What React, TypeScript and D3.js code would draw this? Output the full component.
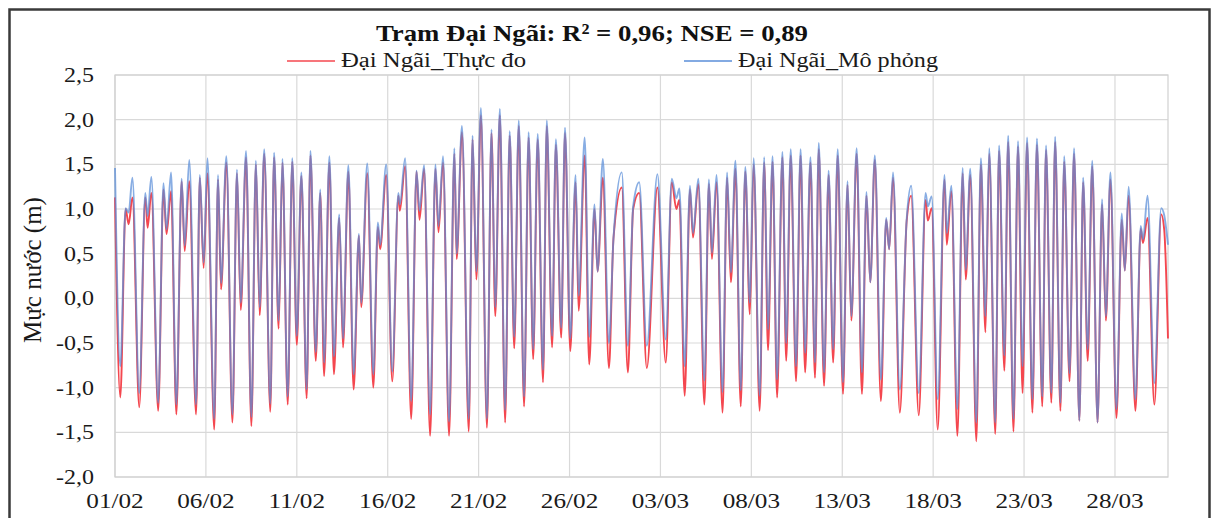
import React from "react";
import * as d3 from "d3";

// Hours since 01/02 00:00 of each turning point (highs, lows, shoulders) of the tide curve
const hours = [
  0, 7, 14, 18, 23, 32, 40, 43, 48, 57, 64, 68, 74, 81, 88, 92, 98, 107, 112, 117, 122, 131,
  136, 140, 147, 155, 161, 166, 173, 180, 186, 191, 197, 205, 210, 216, 221, 228, 234, 240, 246, 253, 258, 265, 271,
  276, 283, 289, 296, 301, 308, 315, 322, 325, 333, 341, 347, 350, 358, 366, 374, 376, 383, 391, 398, 402, 408,
  416, 423, 427, 433, 441, 448, 451, 458, 467, 472, 477, 483, 491, 497, 502, 508, 515, 521, 527, 533, 540, 546,
  552, 558, 565, 570, 577, 582, 589, 594, 601, 608, 612, 620, 626, 633, 637, 644, 652, 658, 669, 677,
  684, 692, 702, 716, 727, 735, 741, 745, 752, 759, 763, 770, 778, 784, 788, 794, 802, 808, 813, 819,
  826, 832, 838, 843, 851, 857, 862, 868, 874, 881, 886, 892, 899, 905, 911, 918, 924, 929, 936, 942, 948, 954,
  961, 967, 972, 979, 986, 992, 997, 1003, 1011, 1018, 1022, 1027, 1036, 1045, 1051, 1061, 1070, 1073, 1078, 1086, 1095,
  1098, 1104, 1112, 1119, 1123, 1129, 1137, 1143, 1149, 1154, 1162, 1167, 1174, 1179, 1186, 1192, 1198, 1204, 1211, 1217, 1224, 1229,
  1236, 1241, 1248, 1253, 1260, 1266, 1273, 1278, 1284, 1290, 1297, 1303, 1308, 1314, 1322, 1329, 1333, 1338, 1347, 1354, 1357, 1363, 1372, 1381, 1385, 1390,
];

// Đại Ngãi_Thực đo (m)
const observed = [
  1.13, -1.11, 1.0, 0.83, 1.13, -1.22, 1.13, 0.79, 1.18, -1.26, 1.22, 0.72, 1.2, -1.3, 1.31, 0.53, 1.31, -1.3, 1.35, 0.34, 1.4, -1.47,
  1.33, 0.1, 1.52, -1.39, 1.4, -0.13, 1.58, -1.43, 1.5, -0.19, 1.62, -1.27, 1.58, -0.34, 1.52, -1.19, 1.53, -0.52, 1.37, -1.12, 1.6, -0.7, 1.18,
  -0.87, 1.52, -0.85, 0.9, -0.55, 1.42, -1.02, 0.7, -0.1, 1.4, -1.0, 0.8, 0.55, 1.38, -0.93, 1.15, 0.98, 1.48, -1.35, 1.42, 0.88, 1.45,
  -1.54, 1.45, 0.74, 1.52, -1.54, 1.62, 0.44, 1.86, -1.49, 1.78, 0.21, 2.05, -1.45, 1.85, -0.2, 2.05, -1.39, 1.82, -0.56, 1.93, -1.21, 1.8,
  -0.68, 1.78, -0.94, 1.93, -0.55, 1.72, -0.44, 1.85, -0.59, 1.3, -0.14, 1.6, -0.74, 1.0, 0.3, 1.35, -0.78, 0.67, 1.24, -0.83,
  1.0, 1.18, -0.78, 1.24, -0.72, 1.3, 1.0, 1.1, -1.09, 1.22, 0.68, 1.28, -1.19, 1.28, 0.44, 1.3, -1.28, 1.35, 0.18, 1.45,
  -1.21, 1.42, -0.18, 1.5, -1.26, 1.52, -0.58, 1.53, -1.11, 1.58, -0.7, 1.6, -0.93, 1.6, -0.83, 1.52, -0.89, 1.67, -0.98, 1.38, -0.72, 1.6,
  -1.07, 1.27, -0.25, 1.62, -1.07, 1.15, 0.18, 1.55, -1.15, 0.88, 0.55, 1.35, -1.28, 0.86, 1.15, -1.31, 1.1, 0.87, 1.01, -1.47, 1.33,
  0.6, 1.2, -1.54, 1.4, 0.21, 1.38, -1.6, 1.5, -0.38, 1.62, -1.52, 1.65, -0.81, 1.75, -1.49, 1.7, -1.06, 1.74, -1.28, 1.72, -1.21, 1.66,
  -1.17, 1.75, -1.26, 1.53, -0.93, 1.62, -1.37, 1.3, -0.7, 1.48, -1.39, 1.05, -0.25, 1.33, -1.34, 0.88, 0.31, 1.15, -1.26, 0.78, 0.62, 0.9, -1.19, 0.94, 0.77, -0.45,
];

// Đại Ngãi_Mô phỏng (m)
const simulated = [
  1.46, -0.76, 1.01, 0.96, 1.35, -1.06, 1.18, 0.92, 1.36, -1.17, 1.29, 0.77, 1.41, -1.19, 1.34, 0.59, 1.55, -1.19, 1.38, 0.4, 1.57, -1.35,
  1.38, 0.17, 1.59, -1.3, 1.44, -0.05, 1.65, -1.33, 1.54, -0.1, 1.67, -1.18, 1.63, -0.25, 1.56, -1.1, 1.57, -0.42, 1.41, -1.02, 1.65, -0.6, 1.22,
  -0.72, 1.59, -0.65, 0.94, -0.45, 1.49, -0.85, 0.72, -0.05, 1.51, -0.85, 0.85, 0.6, 1.5, -0.82, 1.18, 1.05, 1.57, -1.15, 1.43, 0.98, 1.49,
  -1.3, 1.5, 0.81, 1.59, -1.38, 1.68, 0.5, 1.93, -1.35, 1.82, 0.3, 2.13, -1.35, 1.89, -0.1, 2.12, -1.25, 1.87, -0.43, 1.99, -1.1, 1.86,
  -0.57, 1.84, -0.8, 1.99, -0.42, 1.78, -0.33, 1.91, -0.45, 1.38, 0.03, 1.8, -0.43, 1.05, 0.3, 1.56, -0.5, 0.67, 1.41, -0.53,
  1.03, 1.3, -0.53, 1.39, -0.46, 1.34, 1.12, 1.23, -0.76, 1.26, 0.73, 1.34, -0.92, 1.33, 0.51, 1.38, -1.05, 1.41, 0.29, 1.54,
  -1.03, 1.47, -0.05, 1.57, -1.09, 1.58, -0.35, 1.59, -0.91, 1.64, -0.5, 1.67, -0.76, 1.67, -0.61, 1.58, -0.72, 1.74, -0.83, 1.43, -0.57, 1.67,
  -0.94, 1.31, -0.2, 1.68, -0.83, 1.19, 0.18, 1.6, -0.91, 0.9, 0.55, 1.41, -1.02, 0.88, 1.26, -1.06, 1.18, 1.03, 1.14, -1.13, 1.38,
  0.73, 1.26, -1.24, 1.46, 0.32, 1.45, -1.39, 1.57, -0.2, 1.68, -1.39, 1.71, -0.64, 1.82, -1.35, 1.76, -0.76, 1.8, -1.13, 1.79, -1.1, 1.71,
  -1.06, 1.81, -1.17, 1.59, -0.84, 1.68, -1.37, 1.35, -0.57, 1.54, -1.39, 1.11, -0.2, 1.41, -1.24, 0.95, 0.31, 1.25, -1.13, 0.81, 0.66, 1.15, -0.95, 1.01, 0.93, 0.6,
];

const dateLabels = ["01/02", "06/02", "11/02", "16/02", "21/02", "26/02", "03/03", "08/03", "13/03", "18/03", "23/03", "28/03"];
const dateTickHours = [0, 120, 240, 360, 480, 600, 720, 840, 960, 1080, 1200, 1320];
const levelTicks = [-2.0, -1.5, -1.0, -0.5, 0.0, 0.5, 1.0, 1.5, 2.0, 2.5];

const titleText = "Trạm Đại Ngãi: R² = 0,96; NSE = 0,89";
const seriesNames = ["Đại Ngãi_Thực đo", "Đại Ngãi_Mô phỏng"];

const RED = "#F4474F";
const BLUE = "#5A8ED8";
const FONT = "'Liberation Serif', 'Times New Roman', serif";

export default function App() {
  const W = 1219;
  const H = 518;
  const plot = { left: 115, right: 1168, top: 75, bottom: 477 };

  const x = d3.scaleLinear().domain([0, 1390]).range([plot.left, plot.right]);
  const y = d3.scaleLinear().domain([-2, 2.5]).range([plot.bottom, plot.top]);

  const lineGen = d3
    .line<number>()
    .x((_, i) => x(hours[i]))
    .y((d) => y(d))
    .curve(d3.curveMonotoneX);

  const fmt = (v: number) => d3.format(".1f")(v).replace(".", ",").replace("−", "-");
  const sx = 1.2;

  return (
    <svg
      width={W}
      height={H}
      style={{ position: "absolute", left: 0, top: 0, background: "#fff" }}
      fontFamily={FONT}
    >
      <rect x={0} y={0} width={W} height={H} fill="#fff" />
      {/* outer chart frame */}
      <rect x={9.5} y={9.5} width={1200} height={530} fill="none" stroke="#3a3a3a" strokeWidth={2.5} />

      {/* horizontal gridlines */}
      {levelTicks.map((t) => (
        <line key={"h" + t} x1={plot.left} x2={plot.right} y1={y(t)} y2={y(t)} stroke="#d9d9d9" strokeWidth={1.2} />
      ))}
      {/* vertical gridlines */}
      {dateTickHours.map((h) => (
        <line key={"v" + h} x1={x(h)} x2={x(h)} y1={plot.top} y2={plot.bottom} stroke="#d9d9d9" strokeWidth={1.2} />
      ))}
      <rect
        x={plot.left}
        y={plot.top}
        width={plot.right - plot.left}
        height={plot.bottom - plot.top}
        fill="none"
        stroke="#d0d0d0"
        strokeWidth={1.2}
      />

      {/* series */}
      <path d={lineGen(observed) ?? ""} fill="none" stroke={RED} strokeWidth={1.9} strokeLinejoin="round" />
      <path d={lineGen(simulated) ?? ""} fill="none" stroke={BLUE} strokeWidth={1.9} strokeOpacity={0.72} strokeLinejoin="round" />

      {/* y tick labels */}
      {levelTicks.map((t) => (
        <text
          key={"yl" + t}
          transform={`translate(94,${y(t) + 7}) scale(${sx},1)`}
          textAnchor="end"
          fontSize={20}
          fill="#1a1a1a"
        >
          {fmt(t)}
        </text>
      ))}
      {/* x tick labels */}
      {dateTickHours.map((h, i) => (
        <text
          key={"xl" + h}
          transform={`translate(${x(h)},${508}) scale(${sx},1)`}
          textAnchor="middle"
          fontSize={21}
          fill="#1a1a1a"
        >
          {dateLabels[i]}
        </text>
      ))}

      {/* y axis title */}
      <text transform={`translate(41,${270}) rotate(-90)`} textAnchor="middle" fontSize={25} fill="#1a1a1a">
        Mực nước (m)
      </text>

      {/* title */}
      <text x={592} y={41} textAnchor="middle" fontSize={24} fontWeight="bold" fill="#111" textLength={432} lengthAdjust="spacingAndGlyphs">
        {titleText}
      </text>

      {/* legend */}
      <line x1={287} x2={335} y1={61} y2={61} stroke={RED} strokeWidth={1.6} />
      <text x={341} y={67} fontSize={20} fill="#1a1a1a" textLength={185} lengthAdjust="spacingAndGlyphs">
        {seriesNames[0]}
      </text>
      <line x1={684} x2={732} y1={61} y2={61} stroke={BLUE} strokeWidth={1.6} />
      <text x={738} y={67} fontSize={20} fill="#1a1a1a" textLength={200} lengthAdjust="spacingAndGlyphs">
        {seriesNames[1]}
      </text>
    </svg>
  );
}
